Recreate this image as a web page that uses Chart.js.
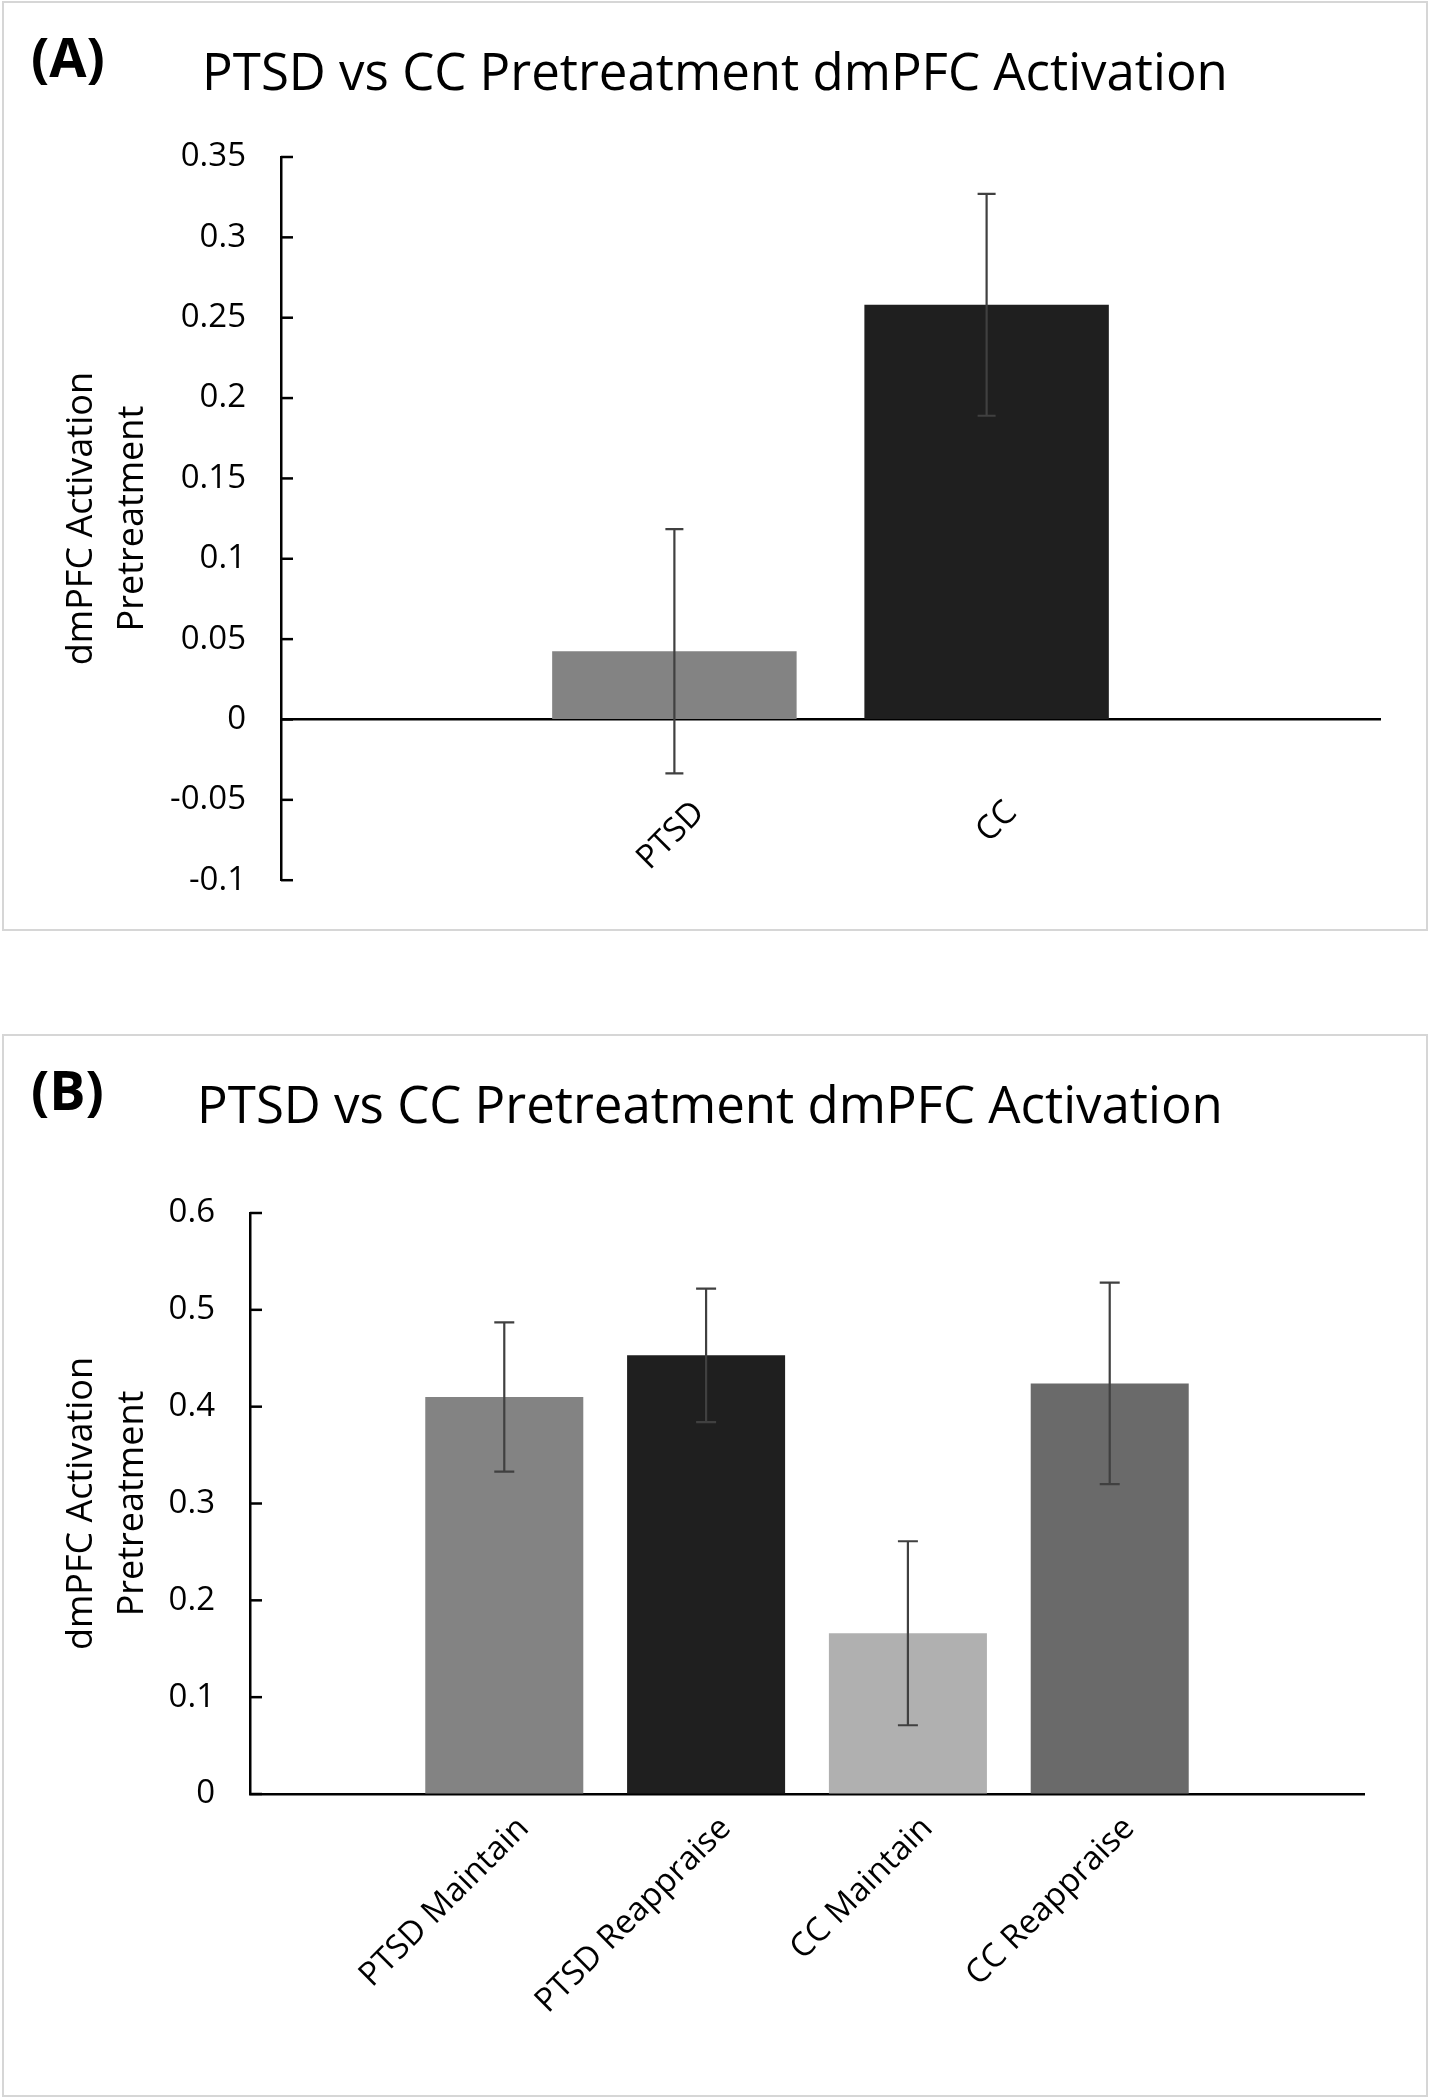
<!DOCTYPE html>
<html>
<head>
<meta charset="utf-8">
<script src="https://cdn.jsdelivr.net/npm/chart.js@4.4.1/dist/chart.umd.min.js"></script>
<style>
  html, body { margin:0; padding:0; background:#fff; }
  body { width:1430px; height:2100px; position:relative; overflow:hidden; font-family:'Open Sans', sans-serif; }
  .box { position:absolute; border:2px solid #d6d6d6; box-sizing:border-box; }
  .panel { position:absolute; font-weight:700; font-size:54px; line-height:54px; color:#000; white-space:nowrap; }
  .title { position:absolute; left:0; width:1430px; text-align:center; font-size:51px; line-height:50px; color:#000; white-space:nowrap; }
  canvas { position:absolute; left:0; }
</style>
</head>
<body>
<script>
// ---------- Data ----------
const categoriesA = ['PTSD', 'CC'];
const valuesA = [0.0425, 0.258];
const errorsA = [0.076, 0.069];
const colorsA = ['#838383', '#1f1f1f'];
const yTicksA = [-0.1, -0.05, 0, 0.05, 0.1, 0.15, 0.2, 0.25, 0.3, 0.35];
const yTickLabelsA = ['-0.1', '-0.05', '0', '0.05', '0.1', '0.15', '0.2', '0.25', '0.3', '0.35'];

const categoriesB = ['PTSD Maintain', 'PTSD Reappraise', 'CC Maintain', 'CC Reappraise'];
const valuesB = [0.41, 0.453, 0.166, 0.424];
const errorsB = [0.077, 0.069, 0.095, 0.104];
const colorsB = ['#838383', '#1f1f1f', '#b0b0b0', '#6a6a6a'];
const yTicksB = [0, 0.1, 0.2, 0.3, 0.4, 0.5, 0.6];
const yTickLabelsB = ['0', '0.1', '0.2', '0.3', '0.4', '0.5', '0.6'];

const titleText = 'PTSD vs CC Pretreatment dmPFC Activation';
const yTitleText = ['dmPFC Activation', 'Pretreatment'];
</script>

<div class="box" style="left:2px; top:1px; width:1426px; height:930px;"></div>
<div class="box" style="left:2px; top:1034px; width:1426px; height:1063px;"></div>

<div class="panel" style="left:31px; top:29px;">(A)</div>
<div class="title" id="titleA" style="top:45px;"></div>
<div class="panel" style="left:31px; top:1062px;">(B)</div>
<div class="title" id="titleB" style="top:1078px; left:-5px;"></div>

<canvas id="chartA" width="1430" height="935" style="top:0px;"></canvas>
<canvas id="chartB" width="1430" height="1070" style="top:1030px;"></canvas>

<script>
document.getElementById('titleA').textContent = titleText;
document.getElementById('titleB').textContent = titleText;

Chart.defaults.font.family = "'Open Sans', sans-serif";
Chart.defaults.color = '#000';

const axisFont = { family: "'Open Sans', sans-serif", size: 33 };

// Error bars drawn from the data arrays through the chart's scales
function errorBarPlugin(errors, capHalf) {
  return {
    id: 'errorBars',
    afterDatasetsDraw(chart) {
      const ctx = chart.ctx;
      const meta = chart.getDatasetMeta(0);
      const ys = chart.scales.y;
      const data = chart.data.datasets[0].data;
      ctx.save();
      ctx.strokeStyle = '#404040';
      ctx.lineWidth = 2.2;
      meta.data.forEach((bar, i) => {
        const v = data[i].y;
        const top = ys.getPixelForValue(v + errors[i]);
        const bot = ys.getPixelForValue(v - errors[i]);
        const x = bar.x;
        ctx.beginPath();
        ctx.moveTo(x, top); ctx.lineTo(x, bot);
        ctx.moveTo(x - capHalf, top); ctx.lineTo(x + capHalf, top);
        ctx.moveTo(x - capHalf, bot); ctx.lineTo(x + capHalf, bot);
        ctx.stroke();
      });
      ctx.restore();
    }
  };
}

// Inward tick marks on the y axis
const innerTicksPlugin = {
  id: 'innerTicks',
  afterDraw(chart) {
    const ys = chart.scales.y;
    const ctx = chart.ctx;
    ctx.save();
    ctx.strokeStyle = '#000';
    ctx.lineWidth = 2.5;
    ys.ticks.forEach(t => {
      const y = ys.getPixelForValue(t.value);
      ctx.beginPath();
      ctx.moveTo(ys.right, y);
      ctx.lineTo(ys.right + 12, y);
      ctx.stroke();
    });
    ctx.restore();
  }
};

function makeChart(canvasId, cats, vals, errs, cols, yTicks, yLabels, cfg) {
  const points = cats.map((c, i) => ({ x: i, y: vals[i] }));
  return new Chart(document.getElementById(canvasId), {
    type: 'bar',
    data: {
      datasets: [{
        data: points,
        backgroundColor: cols,
        borderWidth: 0,
        barPercentage: 0.783,
        categoryPercentage: 1
      }]
    },
    options: {
      responsive: false,
      animation: false,
      layout: { padding: cfg.padding },
      plugins: { legend: { display: false }, tooltip: { enabled: false }, title: { display: false } },
      scales: {
        x: {
          type: 'linear',
          offset: false,
          min: -1.26,
          max: cats.length - 1 + 1.26,
          position: cfg.xPosition,
          afterBuildTicks: s => { s.ticks = cats.map((c, i) => ({ value: i })); },
          afterFit: s => { if (cfg.xHeight) s.height = cfg.xHeight; },
          ticks: {
            autoSkip: false,
            minRotation: 45,
            maxRotation: 45,
            padding: cfg.xPad,
            labelOffset: cfg.xOffset,
            font: axisFont,
            color: '#000',
            callback: (v) => cats[v]
          },
          grid: { drawOnChartArea: false, drawTicks: false, offset: false },
          border: { color: '#000', width: 2.5 }
        },
        y: {
          type: 'linear',
          min: yTicks[0],
          max: yTicks[yTicks.length - 1],
          afterBuildTicks: s => { s.ticks = yTicks.map(v => ({ value: v })); },
          afterFit: s => { s.width = cfg.yWidth; },
          ticks: {
            padding: 35,
            font: axisFont,
            color: '#000',
            callback: (v, i) => yLabels[i]
          },
          title: {
            display: true,
            text: yTitleText,
            color: '#000',
            font: { family: "'Open Sans', sans-serif", size: 36, lineHeight: 1.4 },
            padding: { top: 57, bottom: 0 }
          },
          grid: { drawOnChartArea: false, drawTicks: false },
          border: { color: '#000', width: 2.5 }
        }
      }
    },
    plugins: [errorBarPlugin(errs, cfg.cap), innerTicksPlugin]
  });
}

makeChart('chartA', categoriesA, valuesA, errorsA, colorsA, yTicksA, yTickLabelsA, {
  padding: { left: 0, right: 50, top: 157, bottom: 51 },
  xPosition: { y: 0 },
  xPad: 74, xOffset: 25, yWidth: 281, cap: 9, xHeight: 0
});

makeChart('chartB', categoriesB, valuesB, errorsB, colorsB, yTicksB, yTickLabelsB, {
  padding: { left: 0, right: 66, top: 183, bottom: 0 },
  xPosition: 'bottom',
  xPad: 15, xOffset: 19.5, yWidth: 250, cap: 10, xHeight: 306
});
</script>
</body>
</html>
